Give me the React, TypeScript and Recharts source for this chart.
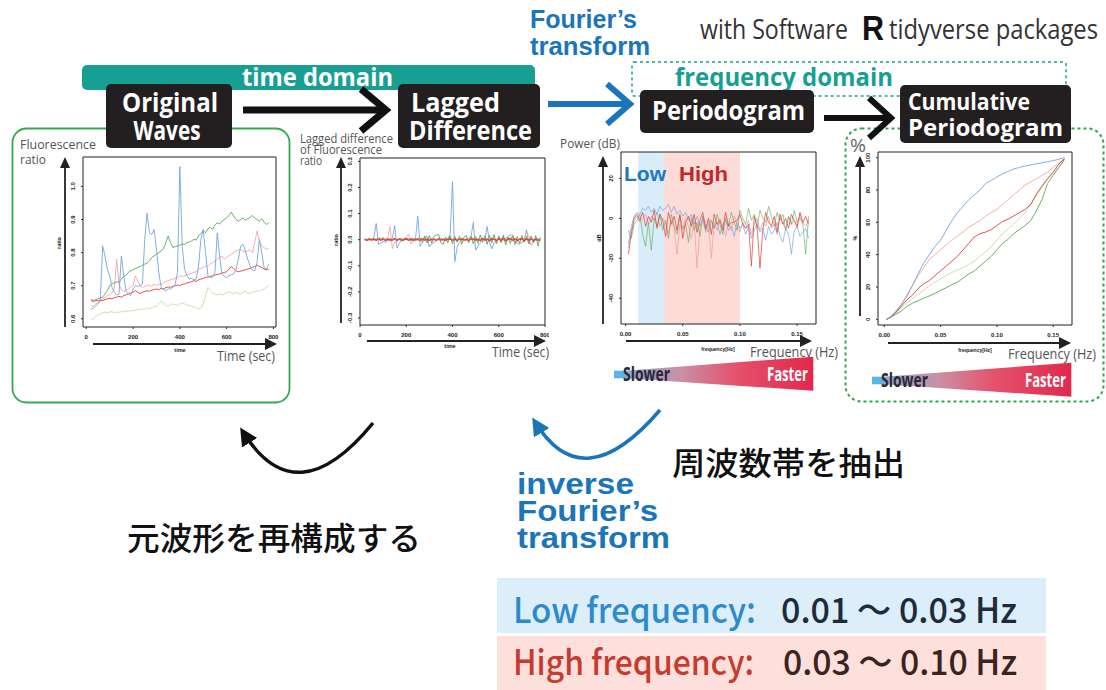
import React from 'react';
import { LineChart, Line, XAxis, YAxis, ReferenceArea } from 'recharts';

// ---------- Original waves (time in sec) ----------
const TIME_SEC = [
  20, 30, 40, 50, 60, 70, 80, 90, 100, 110,
  120, 130, 140, 150, 160, 170, 180, 190, 200, 210,
  220, 230, 240, 250, 260, 270, 280, 290, 300, 310,
  320, 330, 340, 350, 360, 370, 380, 390, 400, 410,
  420, 430, 440, 450, 460, 470, 480, 490, 500, 510,
  520, 530, 540, 550, 560, 570, 580, 590, 600, 610,
  620, 630, 640, 650, 660, 670, 680, 690, 700, 710,
  720, 730, 740, 750, 760, 770, 780,
];
const WAVE_BLUE = [
  0.628, 0.632, 0.638, 0.645, 0.655, 0.82, 0.79, 0.75, 0.73, 0.695,
  0.68, 0.672, 0.675, 0.79, 0.73, 0.683, 0.675, 0.67, 0.69, 0.70,
  0.698, 0.70, 0.705, 0.84, 0.92, 0.86, 0.855, 0.87, 0.81, 0.74,
  0.695, 0.688, 0.685, 0.69, 0.69, 0.695, 0.705, 0.74, 1.06, 0.82,
  0.75, 0.73, 0.72, 0.722, 0.718, 0.72, 0.76, 0.84, 0.87, 0.80,
  0.73, 0.725, 0.725, 0.74, 0.86, 0.79, 0.735, 0.728, 0.725, 0.73,
  0.733, 0.735, 0.75, 0.78, 0.82, 0.825, 0.805, 0.78, 0.76, 0.748,
  0.745, 0.77, 0.84, 0.80, 0.755, 0.75, 0.765,
];
const WAVE_GREEN = [
  0.66, 0.655, 0.658, 0.66, 0.662, 0.665, 0.675, 0.685, 0.70, 0.705,
  0.708, 0.712, 0.71, 0.72, 0.728, 0.732, 0.74, 0.745, 0.748, 0.752,
  0.755, 0.758, 0.762, 0.765, 0.768, 0.775, 0.785, 0.79, 0.795, 0.80,
  0.805, 0.812, 0.83, 0.85, 0.83, 0.815, 0.818, 0.82, 0.822, 0.826,
  0.824, 0.83, 0.832, 0.835, 0.84, 0.838, 0.85, 0.858, 0.866, 0.86,
  0.872, 0.876, 0.87, 0.884, 0.89, 0.886, 0.895, 0.90, 0.905, 0.912,
  0.922, 0.91, 0.90, 0.895, 0.90, 0.905, 0.898, 0.902, 0.906, 0.912,
  0.905, 0.90, 0.895, 0.902, 0.892, 0.885, 0.89,
];
const WAVE_PINK = [
  0.64, 0.637, 0.645, 0.648, 0.652, 0.66, 0.665, 0.67, 0.672, 0.678,
  0.69, 0.78, 0.705, 0.688, 0.682, 0.686, 0.69, 0.695, 0.70, 0.73,
  0.715, 0.70, 0.695, 0.698, 0.70, 0.702, 0.698, 0.705, 0.70, 0.705,
  0.703, 0.708, 0.712, 0.715, 0.718, 0.72, 0.722, 0.725, 0.73, 0.728,
  0.73, 0.732, 0.735, 0.738, 0.74, 0.742, 0.75, 0.752, 0.755, 0.76,
  0.758, 0.765, 0.77, 0.775, 0.78, 0.785, 0.79, 0.78, 0.785, 0.79,
  0.795, 0.80, 0.805, 0.808, 0.81, 0.805, 0.80, 0.805, 0.808, 0.80,
  0.83, 0.865, 0.835, 0.82, 0.815, 0.81, 0.812,
];
const WAVE_RED = [
  0.655, 0.652, 0.655, 0.654, 0.656, 0.655, 0.658, 0.66, 0.662, 0.66,
  0.664, 0.665, 0.668, 0.665, 0.67, 0.672, 0.675, 0.678, 0.68, 0.685,
  0.68, 0.676, 0.68, 0.682, 0.685, 0.683, 0.686, 0.688, 0.69, 0.688,
  0.692, 0.69, 0.694, 0.696, 0.695, 0.698, 0.70, 0.702, 0.70, 0.704,
  0.705, 0.708, 0.71, 0.712, 0.715, 0.713, 0.718, 0.72, 0.722, 0.725,
  0.726, 0.728, 0.73, 0.732, 0.734, 0.735, 0.738, 0.74, 0.742, 0.75,
  0.758, 0.752, 0.745, 0.742, 0.744, 0.746, 0.748, 0.75, 0.752, 0.755,
  0.758, 0.762, 0.758, 0.755, 0.75, 0.748, 0.75,
];
const WAVE_LIGHTGREEN = [
  0.595, 0.60, 0.606, 0.612, 0.615, 0.618, 0.62, 0.618, 0.62, 0.622,
  0.618, 0.62, 0.619, 0.622, 0.62, 0.624, 0.622, 0.625, 0.624, 0.626,
  0.628, 0.627, 0.63, 0.628, 0.632, 0.63, 0.634, 0.636, 0.638, 0.645,
  0.652, 0.648, 0.64, 0.638, 0.642, 0.645, 0.643, 0.64, 0.645, 0.648,
  0.645, 0.642, 0.64, 0.638, 0.636, 0.634, 0.63, 0.632, 0.645, 0.67,
  0.695, 0.685, 0.678, 0.675, 0.672, 0.676, 0.672, 0.674, 0.678, 0.682,
  0.678, 0.675, 0.68, 0.677, 0.675, 0.68, 0.683, 0.678, 0.676, 0.68,
  0.682, 0.685, 0.682, 0.688, 0.69, 0.695, 0.702,
];

// ---------- Lagged difference ----------
const DIFF_BLUE = [
  0.002, 0.001, 0.003, 0.002, 0.008, 0.062, -0.018, -0.012, -0.008, -0.01,
  -0.004, 0.002, 0.006, 0.054, -0.032, -0.014, -0.004, -0.002, 0.006, 0.004,
  -0.006, 0.002, 0.004, 0.09, -0.025, -0.01, 0.01, 0.012, -0.028, -0.016,
  -0.01, -0.004, 0.002, 0.004, -0.002, 0.003, 0.004, 0.02, 0.222, -0.084,
  -0.03, -0.01, -0.004, 0.002, -0.002, 0.004, 0.012, 0.066, -0.04, -0.025,
  -0.012, 0.002, 0.004, 0.05, -0.01, -0.035, -0.012, -0.004, 0.002, 0.004,
  0.003, 0.004, 0.012, 0.018, 0.016, -0.006, -0.012, -0.018, -0.01, -0.004,
  0.038, -0.012, -0.02, -0.01, 0.002, 0.004, -0.004,
];
const DIFF_PINK = [
  0.001, -0.002, 0.003, 0.001, -0.002, 0.004, 0.002, -0.003, 0.002, 0.003,
  0.008, 0.05, -0.035, -0.01, 0.002, 0.004, -0.002, 0.003, 0.01, 0.022,
  -0.016, -0.008, 0.002, 0.004, -0.003, 0.002, 0.005, -0.004, 0.003, -0.002,
  0.004, 0.002, -0.003, 0.003, 0.002, -0.002, 0.004, 0.003, -0.004, 0.002,
  0.003, -0.002, 0.004, 0.002, -0.004, 0.005, 0.004, -0.003, 0.006, -0.004,
  0.003, 0.005, -0.002, 0.004, -0.005, 0.006, 0.004, -0.006, 0.003, 0.005,
  -0.004, 0.006, 0.003, 0.008, 0.006, -0.008, -0.01, 0.004, 0.006, 0.004,
  0.03, 0.012, -0.022, -0.01, 0.003, -0.004, 0.002,
];
const DIFF_GREEN = [
  0.003, -0.003, 0.004, -0.002, 0.005, -0.004, 0.006, 0.004, 0.008, -0.005,
  0.004, -0.006, 0.003, 0.006, -0.004, 0.005, 0.004, -0.005, 0.006, -0.004,
  0.005, 0.004, -0.006, 0.005, 0.008, -0.01, 0.014, -0.012, 0.016, -0.014,
  0.012, 0.018, 0.02, -0.012, -0.018, 0.01, -0.012, 0.015, -0.016, 0.012,
  -0.01, 0.014, -0.018, 0.01, 0.016, -0.012, 0.014, -0.016, 0.012, -0.014,
  0.018, -0.01, 0.014, -0.018, 0.016, -0.012, 0.02, -0.016, 0.014, -0.012,
  0.018, -0.02, 0.01, -0.014, 0.016, -0.018, 0.012, -0.014, 0.016, -0.01,
  0.012, -0.016, 0.014, -0.012, 0.016, -0.024, 0.01,
];
const DIFF_RED = [
  0.001, -0.002, 0.002, -0.001, 0.002, -0.002, 0.003, -0.002, 0.002, -0.003,
  0.002, 0.001, -0.002, 0.003, -0.002, 0.002, -0.003, 0.002, 0.003, -0.002,
  0.002, -0.003, 0.002, 0.001, -0.002, 0.003, -0.002, 0.002, -0.003, 0.002,
  0.001, -0.002, 0.003, -0.002, 0.002, -0.003, 0.002, 0.003, -0.002, 0.002,
  -0.003, 0.002, 0.003, -0.002, 0.002, -0.003, 0.002, 0.003, -0.002, 0.002,
  -0.003, 0.004, -0.002, 0.002, -0.004, 0.003, 0.002, -0.003, 0.004, -0.003,
  0.006, -0.004, 0.002, 0.003, -0.002, 0.004, -0.003, 0.002, 0.003, -0.004,
  0.003, -0.002, 0.004, -0.003, 0.002, -0.002, 0.001,
];

// ---------- Periodogram (dB) ----------
const FREQ_HZ = [
  0.0025, 0.005, 0.0075, 0.01, 0.0125, 0.015, 0.0175, 0.02, 0.0225, 0.025,
  0.0275, 0.03, 0.0325, 0.035, 0.0375, 0.04, 0.0425, 0.045, 0.0475, 0.05,
  0.0525, 0.055, 0.0575, 0.06, 0.0625, 0.065, 0.0675, 0.07, 0.0725, 0.075,
  0.0775, 0.08, 0.0825, 0.085, 0.0875, 0.09, 0.0925, 0.095, 0.0975, 0.1,
  0.1025, 0.105, 0.1075, 0.11, 0.1125, 0.115, 0.1175, 0.12, 0.1225, 0.125,
  0.1275, 0.13, 0.1325, 0.135, 0.1375, 0.14, 0.1425, 0.145, 0.1475, 0.15,
  0.1525, 0.155, 0.1575, 0.16,
];
const PGRAM_BLUE = [
  -13, -4, 1, 3, 2, 5, 4, 6, 3, 5,
  2, 6, 4, 5, 7, 3, 6, 2, 4, 1,
  3, -1, 2, -3, 1, -4, 0, -6, -2, -1,
  -5, -2, -8, -3, -1, -6, -4, -9, -2, -5,
  -3, -8, -4, -10, -6, -3, -7, -5, -11, -4,
  -8, -6, -2, -9, -12, -5, -8, -18, -6, -4,
  -9, -7, -5, -10,
];
const PGRAM_RED = [
  -18, -8, 0, 2, -1, 3, -4, 1, -2, 4,
  -5, 2, -1, -9, 3, -3, 1, -6, 2, -10,
  -2, 1, -4, 2, -7, -1, 3, -5, 0, -8,
  2, -3, -1, -6, 3, -4, -2, -2, -1, 2,
  -3, -5, -3, -24, 1, -4, -25, -6, 3, -2,
  -4, 1, -7, 2, -3, 0, -5, 2, -1, -4,
  3, -2, 1, -3,
];
const PGRAM_GREEN = [
  -6, -10, -3, -1, 2, -8, -14, -2, -16, 0,
  -4, 2, -6, -1, -10, 2, -4, -8, 1, -5,
  -3, -12, 0, -6, -2, -9, 1, -4, -7, -1,
  -5, 2, -3, -8, 0, -4, 3, -2, -6, 4,
  0, -3, 5, -1, 2, -5, 4, 0, -2, 6,
  1, -4, 3, -1, 2, -6, 1, -3, 4, -2,
  0, -3, -18, 1,
];
const PGRAM_PINK = [
  -15, -6, -1, 1, -2, 0, 2, -3, 1, -1,
  3, -4, 0, -2, -8, -1, -5, -18, -3, -6,
  0, -4, -10, -2, -25, -5, -1, -7, -3, -20,
  -2, -6, 0, -4, -9, -2, -6, 1, -3, -7,
  -2, -5, -1, -8, -3, 0, -6, -2, -4, 1,
  -5, -3, -8, 0, -2, -6, 1, -3, -1, -5,
  2, -2, -4, -1,
];
const LOW_BAND_HZ = [0.011, 0.0335];
const HIGH_BAND_HZ = [0.0335, 0.1];

// ---------- Cumulative periodogram (%) ----------
const CUM_FREQ_HZ = [
  0.002, 0.005, 0.01, 0.015, 0.02, 0.025, 0.03, 0.035, 0.04, 0.045,
  0.05, 0.055, 0.06, 0.065, 0.07, 0.075, 0.08, 0.085, 0.09, 0.095,
  0.1, 0.105, 0.11, 0.115, 0.12, 0.125, 0.13, 0.135, 0.14, 0.145,
  0.15, 0.155, 0.16,
];
const CUM_BLUE = [
  0, 1, 5, 9, 14, 21, 28, 35, 40, 45,
  49, 55, 61, 66, 70, 74, 77, 80, 84, 86,
  88, 90, 91.5, 93, 94, 94.8, 95.5, 96.2, 96.8, 97.5,
  98.2, 99, 100,
];
const CUM_PINK = [
  0, 1, 4, 9, 15, 21, 27, 32, 37, 40,
  43, 46, 49, 51.5, 54, 57, 59, 61, 64, 66,
  68, 71, 74, 77, 80, 83, 85, 87, 89, 91,
  94, 96.5, 99,
];
const CUM_RED = [
  0, 1, 4, 8, 12, 15, 19, 22, 24, 27,
  30, 33, 36, 39, 43, 47, 51, 53, 54, 55.5,
  58, 60.5, 62, 64, 66, 68, 71, 77, 82, 87,
  91, 96, 99.5,
];
const CUM_GREEN = [
  0, 1, 3, 5, 8, 10, 11.5, 13, 14.5, 16,
  18, 19.5, 21.5, 23, 25.5, 28, 30, 33, 36, 39,
  43, 47, 49.5, 53, 55.5, 58, 61, 67, 74, 84,
  89, 94, 99,
];
const CUM_LIGHTGREEN = [
  0, 1.5, 4, 7, 10, 13, 15.5, 18, 20.5, 23,
  25, 27, 29, 30.5, 32, 34, 36, 39, 42, 45,
  49, 53, 56, 59, 62.5, 66, 71, 78, 83, 87,
  90, 94, 98.5,
];

// ---------- Tick labels ----------
const TIME_TICKS = [0, 200, 400, 600, 800];
const RATIO_TICKS = [0.6, 0.7, 0.8, 0.9, 1.0];
const DIFF_TICKS = [-0.3, -0.2, -0.1, 0, 0.1, 0.2, 0.3];
const FREQ_TICKS = [0, 0.05, 0.1, 0.15];
const DB_TICKS = [-40, -20, 0, 20];
const PCT_TICKS = [0, 20, 40, 60, 80, 100];

// ---------- tables ----------
const wavesData = TIME_SEC.map((t, i) => ({
  t, blue: WAVE_BLUE[i], green: WAVE_GREEN[i], pink: WAVE_PINK[i], red: WAVE_RED[i], lgreen: WAVE_LIGHTGREEN[i],
}));
const diffData = TIME_SEC.map((t, i) => ({
  t, blue: DIFF_BLUE[i], pink: DIFF_PINK[i], green: DIFF_GREEN[i], red: DIFF_RED[i],
}));
const pgramData = FREQ_HZ.map((f, i) => ({
  f, blue: PGRAM_BLUE[i], green: PGRAM_GREEN[i], pink: PGRAM_PINK[i], red: PGRAM_RED[i],
}));
const cumData = CUM_FREQ_HZ.map((f, i) => ({
  f, blue: CUM_BLUE[i], pink: CUM_PINK[i], red: CUM_RED[i], green: CUM_GREEN[i], lgreen: CUM_LIGHTGREEN[i],
}));

const C_BLUE = '#74a6dc';
const C_GREEN = '#56aa56';
const C_PINK = '#f6a5a5';
const C_RED = '#e03c3c';
const C_LGREEN = '#bfe0a6';

const TICK_FONT = "'Liberation Sans', Arial, sans-serif";
const SANS = "'Open Sans', 'Noto Sans', sans-serif";
const ARIAL = "'Liberation Sans', Arial, sans-serif";
const JP = "'Noto Sans CJK JP', 'Noto Sans CJK SC', sans-serif";

const fmt = (v: number, d: number) => (d > 0 ? Number(v).toFixed(d) : String(v));

const makeXTick = (d: number) => (p: any) => (
  <text x={p.x} y={p.y} dy={7} textAnchor="middle" fontSize={6} fontWeight={700} fill="#222" fontFamily={TICK_FONT}>
    {fmt(p.payload.value, d)}
  </text>
);
const makeYTick = (d: number) => (p: any) => (
  <text transform={`translate(${p.x - 3},${p.y}) rotate(-90)`} textAnchor="middle" fontSize={6} fontWeight={700} fill="#222" fontFamily={TICK_FONT}>
    {fmt(p.payload.value, d)}
  </text>
);

type Series = { key: string; color: string; width?: number; opacity?: number };
type Band = { x1: number; x2: number; fill: string };

function MiniChart(props: {
  plot: number[]; data: any[]; xKey: string; xDomain: number[]; yDomain: number[];
  xTicks: number[]; yTicks: number[]; xDigits: number; yDigits: number; series: Series[]; bands?: Band[];
}) {
  const { plot, data, xKey, xDomain, yDomain, xTicks, yTicks, xDigits, yDigits, series, bands } = props;
  const [px, py, pw, ph] = plot;
  const pl = 30, pt = 4, pr = 4, pb = 22;
  const width = pl + pw + pr;
  const height = pt + ph + pb;
  return (
    <div style={{ position: 'absolute', left: px - pl, top: py - pt, width, height }}>
      <LineChart width={width} height={height} data={data} margin={{ top: pt, right: pr, bottom: 0, left: 0 }}>
        {(bands || []).map((b, i) => (
          <ReferenceArea key={'b' + i} x1={b.x1} x2={b.x2} y1={yDomain[0]} y2={yDomain[1]} fill={b.fill} fillOpacity={1} stroke="none" ifOverflow="visible" />
        ))}
        <XAxis dataKey={xKey} type="number" domain={xDomain} ticks={xTicks} interval={0} allowDataOverflow axisLine={false}
          tickLine={{ stroke: '#333' }} tickSize={2} tickMargin={3} height={pb} tick={makeXTick(xDigits)} />
        <YAxis type="number" domain={yDomain} ticks={yTicks} interval={0} allowDataOverflow axisLine={false}
          tickLine={{ stroke: '#333' }} tickSize={2} tickMargin={3} width={pl} tick={makeYTick(yDigits)} />
        {series.map((s) => (
          <Line key={s.key} dataKey={s.key} type="linear" stroke={s.color} strokeWidth={s.width ?? 1}
            strokeOpacity={s.opacity ?? 0.9} dot={false} activeDot={false} isAnimationActive={false} />
        ))}
        <ReferenceArea x1={xDomain[0]} x2={xDomain[1]} y1={yDomain[0]} y2={yDomain[1]} fill="none" fillOpacity={0}
          stroke="#222" strokeWidth={1} ifOverflow="visible" />
      </LineChart>
    </div>
  );
}

function UpArrow({ x, y1, y2 }: { x: number; y1: number; y2: number }) {
  return (
    <g>
      <line x1={x} y1={y1} x2={x} y2={y2 + 8} stroke="#222" strokeWidth={1.8} />
      <polygon points={`${x},${y2} ${x - 5},${y2 + 11} ${x + 5},${y2 + 11}`} fill="#222" />
    </g>
  );
}
function RightArrow({ y, x1, x2 }: { y: number; x1: number; x2: number }) {
  return (
    <g>
      <line x1={x1} y1={y} x2={x2 - 8} y2={y} stroke="#222" strokeWidth={1.8} />
      <polygon points={`${x2},${y} ${x2 - 12},${y - 6} ${x2 - 12},${y + 6}`} fill="#222" />
    </g>
  );
}

function Wedge({ dx, dy }: { dx: number; dy: number }) {
  return (
    <g transform={`translate(${dx},${dy})`}>
      <rect x={614} y={370.7} width={11} height={7.6} fill="#5ab4e5" />
      <polygon points="625,370.7 813.3,356.7 813.3,390.7 625,378.3" fill="url(#wedgeGrad)" />
      <text x={623} y={381} fontFamily={SANS} fontWeight={700} fontSize={19} fill="#2a2838" textLength={47} lengthAdjust="spacingAndGlyphs">Slower</text>
      <text x={767} y={381} fontFamily={SANS} fontWeight={700} fontSize={19} fill="#fff" textLength={41} lengthAdjust="spacingAndGlyphs">Faster</text>
    </g>
  );
}

function T(props: any) {
  const { len, children, ...rest } = props;
  return (
    <text {...rest} textLength={len} lengthAdjust="spacingAndGlyphs">{children}</text>
  );
}

function Overlay() {
  const BOX = '#231f20';
  const TEAL = '#17a092';
  const BLUE = '#1b75bb';
  return (
    <svg width={1106} height={690} style={{ position: 'absolute', left: 0, top: 0 }}>
      <defs>
        <marker id="headBlack" markerUnits="userSpaceOnUse" markerWidth={18} markerHeight={18} viewBox="0 0 10 10" refX={7} refY={5} orient="auto">
          <path d="M0,0 L10,5 L0,10 z" fill="#111" />
        </marker>
        <marker id="headBlue" markerUnits="userSpaceOnUse" markerWidth={18} markerHeight={18} viewBox="0 0 10 10" refX={7} refY={5} orient="auto">
          <path d="M0,0 L10,5 L0,10 z" fill={BLUE} />
        </marker>
        <linearGradient id="wedgeGrad" x1="0" x2="1" y1="0" y2="0">
          <stop offset="0" stopColor="#8fa6cc" />
          <stop offset="0.3" stopColor="#c98fa6" />
          <stop offset="0.6" stopColor="#e5506a" />
          <stop offset="1" stopColor="#e2284c" />
        </linearGradient>
      </defs>

      {/* header */}
      <T x={530} y={28} fontFamily={ARIAL} fontWeight={700} fontSize={26} fill={BLUE} len={107}>Fourier’s</T>
      <T x={530} y={55} fontFamily={ARIAL} fontWeight={700} fontSize={26} fill={BLUE} len={120}>transform</T>
      <T x={700} y={39} fontFamily={SANS} fontSize={27} fill="#333" len={148}>with Software</T>
      <T x={862} y={40} fontFamily={ARIAL} fontWeight={700} fontSize={35} fill="#111" len={22}>R</T>
      <T x={889} y={39} fontFamily={SANS} fontSize={27} fill="#333" len={209}>tidyverse packages</T>

      {/* domains */}
      <rect x={82} y={65} width={453} height={25} rx={5} fill={TEAL} />
      <T x={242} y={86} fontFamily={SANS} fontWeight={700} fontSize={25} fill="#fff" len={151}>time domain</T>
      <rect x={632} y={62} width={434} height={34} rx={2} fill="none" stroke={TEAL} strokeWidth={1.5} strokeDasharray="3 3" />
      <T x={675} y={86} fontFamily={SANS} fontWeight={700} fontSize={25} fill={TEAL} len={218}>frequency domain</T>

      {/* chart frames */}
      <rect x={12.5} y={128.5} width={277} height={274} rx={14} fill="none" stroke="#34a853" strokeWidth={1.8} />
      <rect x={845.5} y={128.5} width={258} height={273} rx={16} fill="none" stroke="#2ea84e" strokeWidth={2} strokeDasharray="3 3" />

      {/* title boxes */}
      <rect x={106} y={84} width={126} height={64} rx={5} fill={BOX} />
      <T x={170} y={112} textAnchor="middle" fontFamily={SANS} fontWeight={700} fontSize={27} fill="#fff" len={96}>Original</T>
      <T x={167} y={140} textAnchor="middle" fontFamily={SANS} fontWeight={700} fontSize={27} fill="#fff" len={67}>Waves</T>
      <rect x={398} y={84} width={142} height={64} rx={5} fill={BOX} />
      <T x={411} y={112} fontFamily={SANS} fontWeight={700} fontSize={27} fill="#fff" len={89}>Lagged</T>
      <T x={409} y={140} fontFamily={SANS} fontWeight={700} fontSize={27} fill="#fff" len={123}>Difference</T>
      <rect x={640} y={90} width={174} height={43} rx={5} fill={BOX} />
      <T x={652} y={120} fontFamily={SANS} fontWeight={700} fontSize={26} fill="#fff" len={153}>Periodogram</T>
      <rect x={900} y={85} width={171} height={58} rx={5} fill={BOX} />
      <T x={908} y={110} fontFamily={SANS} fontWeight={700} fontSize={24} fill="#fff" len={122}>Cumulative</T>
      <T x={908} y={136} fontFamily={SANS} fontWeight={700} fontSize={24} fill="#fff" len={155}>Periodogram</T>

      {/* flow arrows */}
      <line x1={243} y1={110} x2={384} y2={110} stroke="#111" strokeWidth={7} />
      <polyline points="361,89 386,110 361,131" fill="none" stroke="#111" strokeWidth={7} strokeLinejoin="miter" />
      <line x1={548} y1={104} x2={628} y2={104} stroke={BLUE} strokeWidth={6} />
      <polyline points="607,84 630,104 607,124" fill="none" stroke={BLUE} strokeWidth={6} strokeLinejoin="miter" />
      <line x1={824} y1={118} x2={889} y2={118} stroke="#111" strokeWidth={6} />
      <polyline points="869,98 891,118 869,138" fill="none" stroke="#111" strokeWidth={6} strokeLinejoin="miter" />

      {/* chart 1 labels */}
      <T x={20} y={149} fontFamily={SANS} fontSize={13} fill="#555" len={76}>Fluorescence</T>
      <T x={20} y={164} fontFamily={SANS} fontSize={13} fill="#555" len={26}>ratio</T>
      <UpArrow x={65} y1={327} y2={157} />
      <RightArrow y={344} x1={93} x2={277} />
      <T x={217} y={361} fontFamily={SANS} fontSize={15} fill="#555" len={58}>Time (sec)</T>
      <text transform="translate(61,243) rotate(-90)" textAnchor="middle" fontFamily={TICK_FONT} fontWeight={700} fontSize={5.5} fill="#222">ratio</text>
      <text x={180} y={352} textAnchor="middle" fontFamily={TICK_FONT} fontWeight={700} fontSize={5.5} fill="#222">time</text>

      {/* chart 2 labels */}
      <T x={300} y={143} fontFamily={SANS} fontSize={12} fill="#555" len={93}>Lagged difference</T>
      <T x={300} y={154} fontFamily={SANS} fontSize={12} fill="#555" len={82}>of Fluorescence</T>
      <T x={300} y={165} fontFamily={SANS} fontSize={12} fill="#555" len={22}>ratio</T>
      <UpArrow x={341} y1={323} y2={157} />
      <RightArrow y={341} x1={367} x2={546} />
      <T x={492} y={357} fontFamily={SANS} fontSize={15} fill="#555" len={57}>Time (sec)</T>
      <text transform="translate(338,240) rotate(-90)" textAnchor="middle" fontFamily={TICK_FONT} fontWeight={700} fontSize={5.5} fill="#222">ratio</text>
      <text x={450} y={348} textAnchor="middle" fontFamily={TICK_FONT} fontWeight={700} fontSize={5.5} fill="#222">time</text>

      {/* chart 3 labels */}
      <T x={560} y={148} fontFamily={SANS} fontSize={13} fill="#555" len={60}>Power (dB)</T>
      <T x={624} y={181} fontFamily={ARIAL} fontWeight={700} fontSize={20} fill="#1c78c0" len={42}>Low</T>
      <T x={679} y={181} fontFamily={ARIAL} fontWeight={700} fontSize={20} fill="#c0282c" len={49}>High</T>
      <UpArrow x={603} y1={324} y2={156} />
      <RightArrow y={341} x1={626} x2={812} />
      <T x={750} y={357} fontFamily={SANS} fontSize={14.5} fill="#555" len={88}>Frequency (Hz)</T>
      <text transform="translate(601,238) rotate(-90)" textAnchor="middle" fontFamily={TICK_FONT} fontWeight={700} fontSize={5.5} fill="#222">dB</text>
      <text x={718} y={351} textAnchor="middle" fontFamily={TICK_FONT} fontWeight={700} fontSize={5} fill="#222">frequency[Hz]</text>
      <Wedge dx={0} dy={0} />

      {/* chart 4 labels */}
      <T x={850} y={152} fontFamily={SANS} fontSize={18} fill="#666" len={16}>%</T>
      <UpArrow x={860} y1={316} y2={156} />
      <RightArrow y={343} x1={888} x2={1071} />
      <T x={1008} y={359} fontFamily={SANS} fontSize={14.5} fill="#555" len={88}>Frequency (Hz)</T>
      <text transform="translate(857,238) rotate(-90)" textAnchor="middle" fontFamily={TICK_FONT} fontWeight={700} fontSize={5.5} fill="#222">%</text>
      <text x={975} y={352} textAnchor="middle" fontFamily={TICK_FONT} fontWeight={700} fontSize={5} fill="#222">frequency[Hz]</text>
      <Wedge dx={258} dy={6} />

      {/* curved arrows */}
      <path d="M 373 423 Q 296 517 243 432" fill="none" stroke="#111" strokeWidth={3.5} markerEnd="url(#headBlack)" />
      <path d="M 660 410 Q 583 500 535 422" fill="none" stroke={BLUE} strokeWidth={3.5} markerEnd="url(#headBlue)" />

      <T x={672} y={475} fontFamily={JP} fontWeight={500} fontSize={32} fill="#111" len={233}>周波数帯を抽出</T>
      <T x={127} y={550} fontFamily={JP} fontWeight={500} fontSize={32} fill="#111" len={294}>元波形を再構成する</T>
      <T x={517} y={494} fontFamily={ARIAL} fontWeight={700} fontSize={29} fill={BLUE} len={117}>inverse</T>
      <T x={517} y={521} fontFamily={ARIAL} fontWeight={700} fontSize={29} fill={BLUE} len={141}>Fourier’s</T>
      <T x={517} y={548} fontFamily={ARIAL} fontWeight={700} fontSize={29} fill={BLUE} len={153}>transform</T>

      {/* legend boxes */}
      <rect x={497} y={578} width={549} height={55} fill="#dbeefa" />
      <rect x={497} y={636} width={549} height={54} fill="#fde0dc" />
      <T x={513} y={623} fontFamily={JP} fontWeight={500} fontSize={35} fill="#2e8bcb" len={243}>Low frequency:</T>
      <T x={781} y={623} fontFamily={JP} fontWeight={500} fontSize={35} fill="#1d2b3a" len={236}>0.01 ～ 0.03 Hz</T>
      <T x={513} y={675} fontFamily={JP} fontWeight={500} fontSize={35} fill="#c63a2f" len={241}>High frequency:</T>
      <T x={783} y={675} fontFamily={JP} fontWeight={500} fontSize={35} fill="#3b2321" len={234}>0.03 ～ 0.10 Hz</T>
    </svg>
  );
}

export default function App() {
  return (
    <div style={{ position: 'absolute', left: 0, top: 0, width: 1106, height: 690, background: '#fff', overflow: 'hidden' }}>
      <MiniChart plot={[83, 157, 193, 170]} data={wavesData} xKey="t" xDomain={[-14, 811]} yDomain={[0.575, 1.089]}
        xTicks={TIME_TICKS} yTicks={RATIO_TICKS} xDigits={0} yDigits={1}
        series={[
          { key: 'lgreen', color: C_LGREEN },
          { key: 'pink', color: C_PINK },
          { key: 'green', color: C_GREEN },
          { key: 'red', color: C_RED },
          { key: 'blue', color: C_BLUE },
        ]} />
      <MiniChart plot={[360, 158, 185, 167]} data={diffData} xKey="t" xDomain={[0, 800]} yDomain={[-0.327, 0.313]}
        xTicks={TIME_TICKS} yTicks={DIFF_TICKS} xDigits={0} yDigits={1}
        series={[
          { key: 'blue', color: C_BLUE },
          { key: 'pink', color: C_PINK },
          { key: 'green', color: C_GREEN },
          { key: 'red', color: C_RED, width: 1.6 },
        ]} />
      <MiniChart plot={[621, 152, 195, 172]} data={pgramData} xKey="f" xDomain={[-0.004, 0.1665]} yDomain={[-52.9, 33.2]}
        xTicks={FREQ_TICKS} yTicks={DB_TICKS} xDigits={2} yDigits={0}
        bands={[
          { x1: LOW_BAND_HZ[0], x2: LOW_BAND_HZ[1], fill: '#d8ecfa' },
          { x1: HIGH_BAND_HZ[0], x2: HIGH_BAND_HZ[1], fill: '#fddcd8' },
        ]}
        series={[
          { key: 'pink', color: C_PINK, opacity: 0.85 },
          { key: 'green', color: C_GREEN, opacity: 0.6 },
          { key: 'blue', color: C_BLUE, opacity: 0.7 },
          { key: 'red', color: C_RED, opacity: 0.7 },
        ]} />
      <MiniChart plot={[878, 152, 194, 173]} data={cumData} xKey="f" xDomain={[-0.0056, 0.1667]} yDomain={[-3.5, 103.5]}
        xTicks={FREQ_TICKS} yTicks={PCT_TICKS} xDigits={2} yDigits={0}
        series={[
          { key: 'lgreen', color: C_LGREEN },
          { key: 'pink', color: C_PINK },
          { key: 'green', color: C_GREEN },
          { key: 'red', color: C_RED },
          { key: 'blue', color: C_BLUE },
        ]} />
      <Overlay />
    </div>
  );
}
